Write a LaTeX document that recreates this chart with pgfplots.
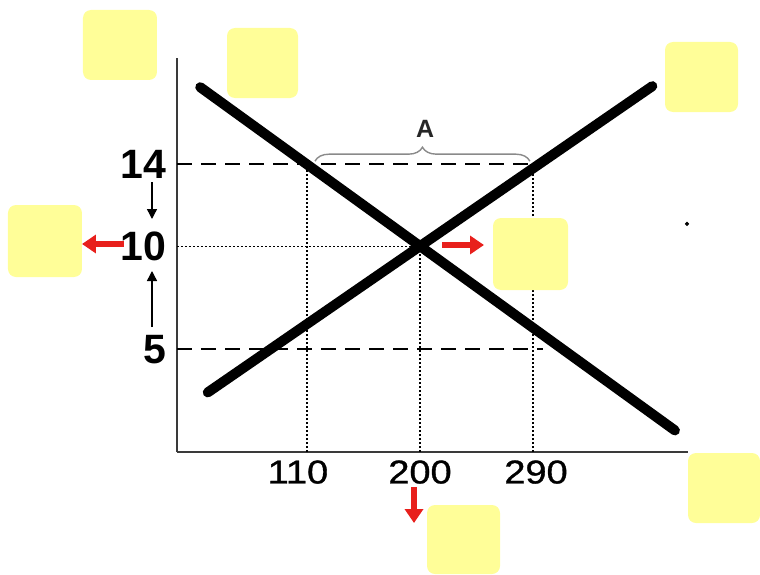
\documentclass[border=0pt]{standalone}
\usepackage{fontspec}
\setmainfont{Liberation Sans}
\usepackage{pgfplots}
\pgfplotsset{compat=1.18}
\usetikzlibrary{arrows.meta,decorations.pathreplacing}
\definecolor{axisink}{HTML}{3A3A3A}
\definecolor{note}{HTML}{FFFE98}
\definecolor{arrowred}{HTML}{E8201C}
\definecolor{bracegray}{HTML}{8A8A8A}
\tikzset{
  note/.style={fill=note, draw=none, rounded corners=4pt},
  redarrow/.style={arrowred, line width=3pt, -{Triangle[length=7pt,width=9pt]}},
  blackarrow/.style={black, line width=0.7pt, -{Triangle[length=5pt,width=5pt]}},
}
\begin{document}
\begin{tikzpicture}
\begin{axis}[
  at={(0,0)}, anchor=south west,
  scale only axis, width=255.5pt, height=197pt,
  xmin=6.5, xmax=413.4, ymin=0, ymax=19.17,
  axis x line*=bottom, axis y line*=left,
  axis line style={draw=axisink, line width=1pt},
  xtick={110,200,290}, xticklabels={\hspace*{-9pt}110,200,\hspace*{-3pt}290\hspace*{-6pt}},
  ytick={5,10,14}, yticklabels={5,10,14},
  major tick length=0pt, tick style={draw=none},
  yticklabel style={inner sep=0pt, xshift=-5pt, font=\fontsize{20.5}{24}\selectfont\bfseries},
  xticklabel style={inner sep=0pt, yshift=-4pt, font=\fontsize{16.5}{20}\selectfont\addfontfeature{FakeStretch=1.15, FakeBold=1}},
  /pgf/number format/assume math mode=true,
  clip=false,
]
% reference lines
\addplot[black, line width=0.8pt, dash pattern=on 7.5pt off 4.5pt] coordinates {(6.5,14) (293,14)};
\addplot[black, line width=0.8pt, dash pattern=on 7.5pt off 4.5pt] coordinates {(6.5,5) (298,5)};
\addplot[black, line width=0.8pt, dash pattern=on 0.8pt off 1.2pt] coordinates {(6.5,10) (200,10)};
\addplot[black, line width=0.8pt, dash pattern=on 0.8pt off 1.2pt] coordinates {(110,0) (110,14)};
\addplot[black, line width=0.8pt, dash pattern=on 0.8pt off 1.2pt] coordinates {(200,0) (200,10)};
\addplot[black, line width=0.8pt, dash pattern=on 0.8pt off 1.2pt] coordinates {(290,0) (290,14)};
% demand and supply
\addplot[black, line width=5pt, line cap=round] coordinates {(25,17.75) (403,1.05)};
\addplot[black, line width=5pt, line cap=round] coordinates {(31,2.9) (385,17.8)};
% stray dot
\addplot[black, only marks, mark=*, mark size=0.8pt] coordinates {(412.6,11.1)};
% brace A
\draw[bracegray, line width=0.7pt, decorate, decoration={brace, amplitude=7pt}]
  (axis cs:116.4,14.15) -- (axis cs:287.5,14.15);
\node[font=\fontsize{12.5}{14}\selectfont\bfseries, text=black!85] at (axis cs:204,15.74) {A};
\end{axis}
\begin{scope}[x=0.5pt, y=-0.5pt, shift={(-177,-452)}]
  % black arrows between the price labels
  \draw[blackarrow] (152,182) -- (152,219);
  \draw[blackarrow] (152,327) -- (152,271);
  % red arrows
  \draw[redarrow] (124,244) -- (82,244);
  \draw[redarrow] (442,245) -- (484,245);
  \draw[redarrow] (414,487) -- (414,523);
  % sticky notes
  \fill[note] (83,10) rectangle (157,80);
  \fill[note] (227,28) rectangle (298,98);
  \fill[note] (665,42) rectangle (738,112);
  \fill[note] (8,205) rectangle (82,277);
  \fill[note] (493,218) rectangle (568,290);
  \fill[note] (688,453) rectangle (760,523);
  \fill[note] (427,505) rectangle (500,574);
  \pgfresetboundingbox
  \path[use as bounding box] (0,0) rectangle (760,574);
\end{scope}
\end{tikzpicture}
\end{document}
